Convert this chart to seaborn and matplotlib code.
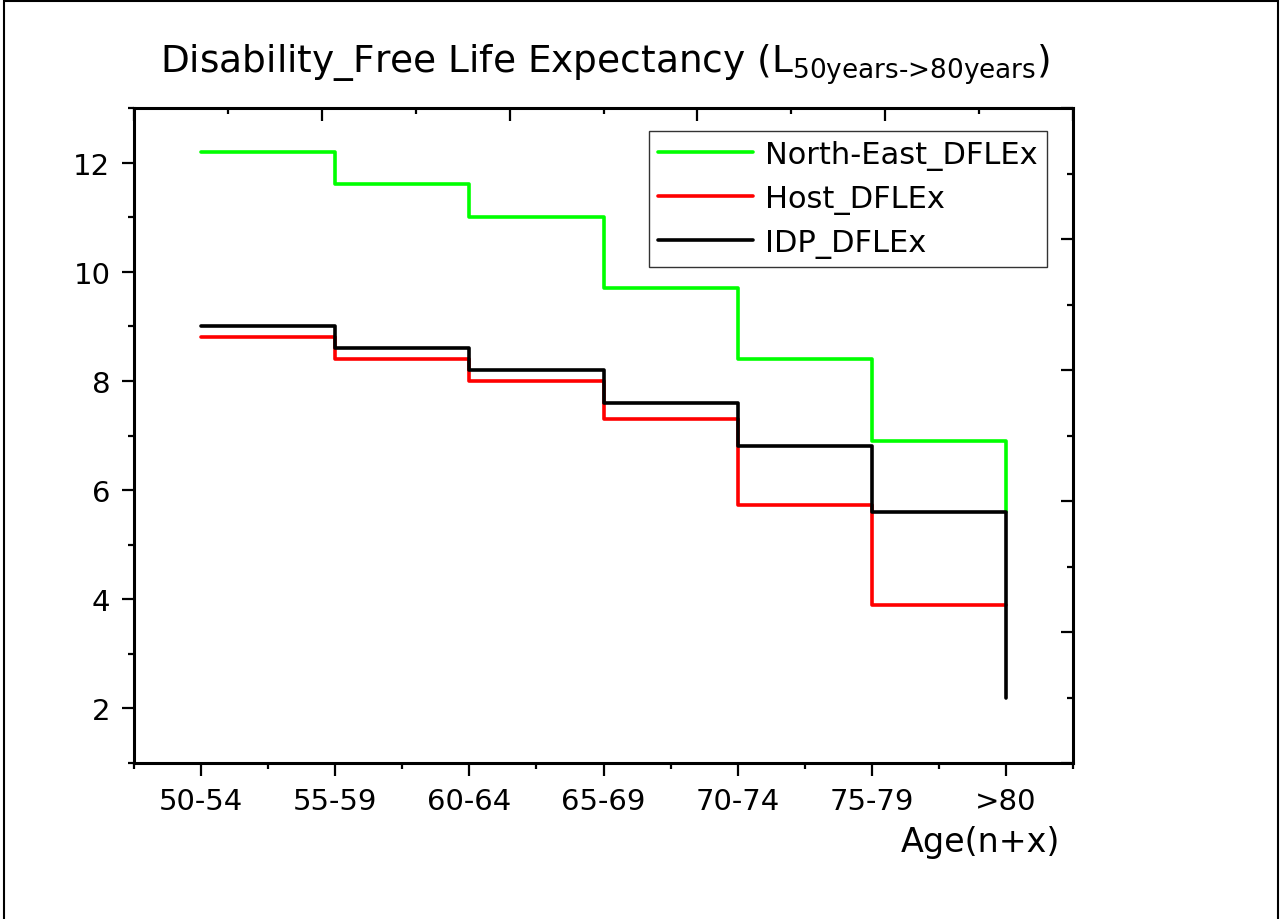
import pandas as pd
import seaborn as sns
import matplotlib.pyplot as plt
from matplotlib.patches import Rectangle
from matplotlib.lines import Line2D
from matplotlib.ticker import MultipleLocator

# datos
age_groups = ["50-54", "55-59", "60-64", "65-69", "70-74", "75-79", ">80"]
north_east = [12.2, 11.6, 11.0, 9.7, 8.4, 6.9, 5.6]
host = [8.8, 8.4, 8.0, 7.3, 5.72, 3.9, 3.9]
idp = [9.0, 8.6, 8.2, 7.6, 6.8, 5.6, 2.2]

series_names = ["North-East_DFLEx", "Host_DFLEx", "IDP_DFLEx"]
colores = ["#00ff00", "#ff0000", "#000000"]

rows = []
for name, vals in zip(series_names, [north_east, host, idp]):
    for i, v in enumerate(vals):
        rows.append({"pos": i, "value": v, "series": name})
df = pd.DataFrame(rows)

sns.set_style("white")
plt.rcParams["font.family"] = ["DejaVu Sans"]
plt.rcParams["text.color"] = "black"
plt.rcParams["xtick.color"] = "black"
plt.rcParams["ytick.color"] = "black"
plt.rcParams["axes.labelcolor"] = "black"

fig = plt.figure(figsize=(12.81, 9.2), dpi=100)
ax = fig.add_axes([134 / 1281, 156 / 920, 939 / 1281, 655 / 920])

sns.lineplot(
    data=df, x="pos", y="value", hue="series",
    palette=dict(zip(series_names, colores)),
    drawstyle="steps-post", linewidth=2.6, legend=False, ax=ax
)

ax.set_xlim(-0.5, 6.5)
ax.set_ylim(1, 13)
ax.set_xticks(range(len(age_groups)))
ax.set_xticklabels(age_groups)
ax.xaxis.set_minor_locator(MultipleLocator(0.5))
ax.set_yticks([2, 4, 6, 8, 10, 12])
ax.yaxis.set_minor_locator(MultipleLocator(1))
ax.set_xlabel("")
ax.set_ylabel("")
ax.tick_params(axis="both", which="major", direction="out", length=9, width=1.6,
               labelsize=21, pad=8, bottom=True, left=True, top=False, right=False)
ax.tick_params(axis="both", which="minor", direction="out", length=4.5, width=1.6,
               bottom=True, left=True, top=False, right=False)
for sp in ax.spines.values():
    sp.set_visible(True)
    sp.set_linewidth(2.2)
    sp.set_color("black")

# ejes superior y derecho con su propia escala (0-5)
ax2 = fig.add_axes(ax.get_position(), facecolor="none")
ax2.set_xlim(0, 5)
ax2.set_ylim(0, 5)
ax2.xaxis.set_major_locator(MultipleLocator(1))
ax2.xaxis.set_minor_locator(MultipleLocator(0.5))
ax2.yaxis.set_major_locator(MultipleLocator(1))
ax2.yaxis.set_minor_locator(MultipleLocator(0.5))
ax2.tick_params(axis="both", which="major", direction="in", length=9, width=1.6,
                bottom=False, left=False, top=True, right=True,
                labelbottom=False, labelleft=False, labeltop=False, labelright=False)
ax2.tick_params(axis="both", which="minor", direction="in", length=4.5, width=1.6,
                bottom=False, left=False, top=True, right=True)
for sp in ax2.spines.values():
    sp.set_visible(False)

handles = [Line2D([0], [0], color=c, lw=2.6) for c in colores]
leg = ax.legend(handles, series_names, loc="upper right", bbox_to_anchor=(0.972, 0.965),
                borderaxespad=0, fontsize=22, handlelength=3.1, handletextpad=0.4,
                labelspacing=0.45, borderpad=0.3, frameon=True, fancybox=False)
leg.get_frame().set_edgecolor("black")
leg.get_frame().set_linewidth(1)

fig.text(605 / 1281, 1 - 65 / 920,
         r"Disability_Free Life Expectancy (L$_{\text{50years->80years}}$)",
         ha="center", va="center", fontsize=27)
fig.text(980 / 1281, 1 - 843 / 920, "Age(n+x)", ha="center", va="center", fontsize=24)

fig.patches.append(Rectangle((4 / 1281, -0.01), 1274 / 1281, 1.0 - 2 / 920 + 0.01,
                             transform=fig.transFigure, fill=False, lw=1.5,
                             edgecolor="black"))

plt.savefig("out.png", dpi=100)
